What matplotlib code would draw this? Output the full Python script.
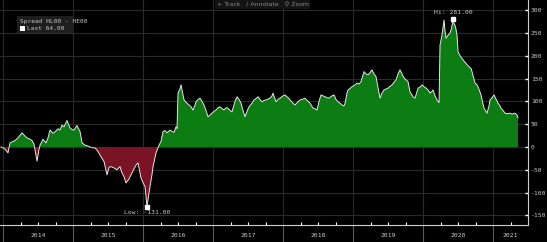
import matplotlib
matplotlib.use("Agg")
import matplotlib.pyplot as plt
import matplotlib.transforms as mtransforms
from matplotlib.patches import Rectangle
import numpy as np

# ---- data (decimal years, spread values) ----
years = [
    2013.971, 2014.014, 2014.057, 2014.071, 2014.100, 2014.143, 2014.171, 2014.214, 2014.271, 2014.314,
    2014.343, 2014.386, 2014.414, 2014.443, 2014.457, 2014.486, 2014.514, 2014.529, 2014.571, 2014.614,
    2014.643, 2014.671, 2014.714, 2014.743, 2014.786, 2014.814, 2014.843, 2014.871, 2014.914, 2014.957,
    2014.986, 2015.014, 2015.057, 2015.100, 2015.129, 2015.171, 2015.214, 2015.243, 2015.286, 2015.314,
    2015.357, 2015.386, 2015.414, 2015.443, 2015.486, 2015.514, 2015.543, 2015.586, 2015.629, 2015.671,
    2015.700, 2015.729, 2015.757, 2015.800, 2015.829, 2015.871, 2015.900, 2015.929, 2015.971, 2016.000,
    2016.029, 2016.057, 2016.086, 2016.100, 2016.129, 2016.143, 2016.186, 2016.214, 2016.229, 2016.257,
    2016.286, 2016.314, 2016.343, 2016.386, 2016.414, 2016.443, 2016.471, 2016.486, 2016.500, 2016.529,
    2016.543, 2016.557, 2016.586, 2016.614, 2016.657, 2016.686, 2016.714, 2016.743, 2016.757, 2016.786,
    2016.814, 2016.843, 2016.871, 2016.900, 2016.929, 2016.957, 2016.986, 2017.014, 2017.043, 2017.071,
    2017.100, 2017.129, 2017.157, 2017.186, 2017.214, 2017.243, 2017.271, 2017.314, 2017.343, 2017.371,
    2017.400, 2017.429, 2017.457, 2017.486, 2017.514, 2017.557, 2017.586, 2017.614, 2017.643, 2017.671,
    2017.700, 2017.729, 2017.757, 2017.786, 2017.814, 2017.843, 2017.857, 2017.900, 2017.929, 2017.957,
    2018.000, 2018.029, 2018.071, 2018.100, 2018.143, 2018.171, 2018.214, 2018.243, 2018.286, 2018.314,
    2018.357, 2018.386, 2018.429, 2018.457, 2018.486, 2018.514, 2018.543, 2018.571, 2018.600, 2018.629,
    2018.657, 2018.700, 2018.729, 2018.757, 2018.786, 2018.814, 2018.843, 2018.871, 2018.886, 2018.914,
    2018.929, 2018.957, 2018.986, 2019.029, 2019.057, 2019.086, 2019.114, 2019.143, 2019.157, 2019.186,
    2019.214, 2019.243, 2019.271, 2019.300, 2019.329, 2019.357, 2019.386, 2019.414, 2019.443, 2019.471,
    2019.500, 2019.529, 2019.557, 2019.586, 2019.614, 2019.643, 2019.671, 2019.700, 2019.729, 2019.757,
    2019.786, 2019.814, 2019.857, 2019.886, 2019.929, 2019.957, 2019.986, 2020.014, 2020.043, 2020.071,
    2020.100, 2020.129, 2020.143, 2020.171, 2020.200, 2020.229, 2020.243, 2020.271, 2020.286, 2020.300,
    2020.314, 2020.329, 2020.357, 2020.386, 2020.400, 2020.414, 2020.429, 2020.443, 2020.457, 2020.471,
    2020.486, 2020.500, 2020.529, 2020.557, 2020.586, 2020.614, 2020.643, 2020.657, 2020.686, 2020.700,
    2020.729, 2020.743, 2020.771, 2020.786, 2020.814, 2020.829, 2020.857, 2020.871, 2020.900, 2020.914,
    2020.943, 2020.957, 2020.986, 2021.014, 2021.043, 2021.071, 2021.100, 2021.114, 2021.143, 2021.171,
    2021.200, 2021.243, 2021.271, 2021.314, 2021.343, 2021.357,
]
spread = [
    0, -3, -10, -13, 9, 12, 14, 20, 31, 24,
    20, 17, 14, 6, -6, -31, -5, 4, 17, 9,
    20, 37, 30, 33, 40, 37, 48, 44, 58, 42,
    38, 37, 47, 34, 9, 4, 2, 0, -2, -2,
    -10, -18, -25, -32, -61, -45, -43, -46, -50, -43,
    -57, -65, -79, -70, -61, -48, -40, -35, -68, -78,
    -87, -131, -100, -87, -60, -43, -13, -2, 4, 12,
    34, 36, 31, 37, 34, 32, 44, 40, 118, 128,
    136, 125, 103, 98, 92, 88, 81, 92, 99, 104,
    107, 100, 92, 80, 66, 70, 74, 78, 81, 86,
    88, 84, 81, 86, 85, 80, 77, 100, 110, 104,
    96, 80, 66, 78, 88, 96, 103, 106, 110, 104,
    99, 102, 103, 105, 107, 112, 118, 99, 104, 107,
    112, 114, 108, 103, 96, 92, 99, 103, 105, 107,
    100, 96, 85, 84, 81, 100, 114, 112, 110, 108,
    107, 112, 114, 104, 99, 96, 92, 90, 96, 118,
    125, 128, 132, 136, 140, 138, 143, 158, 165, 160,
    158, 163, 169, 160, 154, 130, 107, 118, 125, 127,
    129, 133, 136, 142, 147, 160, 169, 160, 151, 147,
    143, 121, 110, 107, 129, 131, 136, 132, 129, 125,
    118, 122, 125, 112, 103, 97, 223, 245, 262, 278,
    255, 238, 245, 250, 256, 265, 281, 270, 267, 258,
    245, 209, 200, 194, 188, 183, 178, 176, 172, 165,
    148, 140, 136, 132, 120, 114, 95, 85, 78, 74,
    90, 103, 108, 114, 105, 96, 90, 85, 80, 74,
    73, 74, 72, 74, 70, 64,
]
year_labels = ["2014", "2015", "2016", "2017", "2018", "2019", "2020", "2021"]
y_ticks = [-150, -100, -50, 0, 50, 100, 150, 200, 250, 300]
series_name = "Spread HL00 - HE00"
last_value = 64.00
hi_value = 281.00
lo_value = -131.00

# ---- style ----
BG = "#000000"
GRID = "#2b2b2b"
GREEN = "#0b7d12"
RED = "#7a1424"
LINE = "#e6e6e6"
TXT = "#c8c8c8"
MONO = "DejaVu Sans Mono"

x = np.array(years)
y = np.array(spread, dtype=float)

fig = plt.figure(figsize=(5.47, 2.42), dpi=100, facecolor=BG)
ax = fig.add_axes([0.0, 0.0702, 0.9653, 0.9298], facecolor=BG)

ax.set_xlim(2013.957, 2021.5)
ax.set_ylim(-171, 322)

# grid
for v in y_ticks:
    ax.axhline(v, color=GRID, lw=0.8, zorder=0)
for yr in range(2014, 2022):
    ax.axvline(yr, color=GRID, lw=0.8, zorder=0)

ax.fill_between(x, 0, y, where=y >= 0, interpolate=True, color=GREEN, lw=0, zorder=2)
ax.fill_between(x, 0, y, where=y <= 0, interpolate=True, color=RED, lw=0, zorder=2)
ax.plot(x, y, color=LINE, lw=0.7, zorder=3)

# hi / low markers
i_hi = int(np.argmax(y))
i_lo = int(np.argmin(y))
ax.plot([x[i_hi]], [y[i_hi]], marker="s", ms=2.2, color="white", zorder=4)
ax.plot([x[i_lo]], [y[i_lo]], marker="s", ms=2.2, color="white", zorder=4)
ax.annotate(f"Hi: {hi_value:.2f}", (x[i_hi], y[i_hi]), xytext=(0, 3), textcoords="offset points",
            ha="center", va="bottom", fontsize=4.6, color=TXT, family=MONO)
ax.annotate(f"Low: {lo_value:.2f}", (x[i_lo], y[i_lo]), xytext=(0, -2), textcoords="offset points",
            ha="center", va="top", fontsize=4.6, color=TXT, family=MONO)

# spines
for s in ["top", "left"]:
    ax.spines[s].set_visible(False)
ax.spines["right"].set_color("#d0d0d0")
ax.spines["bottom"].set_color("#d0d0d0")
ax.spines["right"].set_linewidth(0.8)
ax.spines["bottom"].set_linewidth(0.8)

# y axis on right
ax.yaxis.tick_right()
ax.set_yticks(y_ticks)
ax.set_yticklabels([str(v) for v in y_ticks], fontsize=4.6, color=TXT, family=MONO)
ax.tick_params(axis="y", direction="in", length=2, width=1.0, color="white", pad=2)

# x axis: year separators (major) and quarter ticks (minor)
ax.set_xticks(list(range(2014, 2022)))
ax.set_xticklabels([""] * 8)
ax.tick_params(axis="x", which="major", direction="out", length=13, width=0.8, color="#5a5a5a")
ax.set_xticks([yr + q for yr in range(2014, 2022) for q in (0.25, 0.5, 0.75)
               if yr + q < 2021.5], minor=True)
ax.tick_params(axis="x", which="minor", direction="in", length=2, width=0.8, color="white")

trans = mtransforms.blended_transform_factory(ax.transData, fig.transFigure)
label_pos = [2014.5, 2015.5, 2016.5, 2017.5, 2018.5, 2019.5, 2020.5, 2021.25]
for lab, px in zip(year_labels, label_pos):
    fig.text(px, 0.028, lab, transform=trans, ha="center", va="center",
             fontsize=4.6, color=TXT, family=MONO)

# legend box top-left
W, H = 547.0, 242.0
fig.patches.append(Rectangle((17 / W, 1 - 33 / H), 57 / W, 17 / H, transform=fig.transFigure,
                             fc="#1e1e1e", ec="none", zorder=5))
fig.text(20 / W, 1 - 21.5 / H, series_name, fontsize=4.4, color=TXT, family=MONO,
         va="center", ha="left", zorder=6)
fig.patches.append(Rectangle((20 / W, 1 - 31 / H), 5 / W, 5 / H, transform=fig.transFigure,
                             fc="white", ec="none", zorder=6))
fig.text(27 / W, 1 - 28.5 / H, f"Last {last_value:.2f}", fontsize=4.4, color=TXT, family=MONO,
         va="center", ha="left", zorder=6)

# toolbar
fig.text(0.48, 0.983, "+ Track   \u2215 Annotate   \u26B2 Zoom", fontsize=4.4, color="#8a8a8a",
         ha="center", va="center", family=["DejaVu Sans", "Noto Sans"],
         bbox=dict(boxstyle="square,pad=0.3", fc="#141414", ec="none"))

fig.savefig("out.png", dpi=100, facecolor=BG)
